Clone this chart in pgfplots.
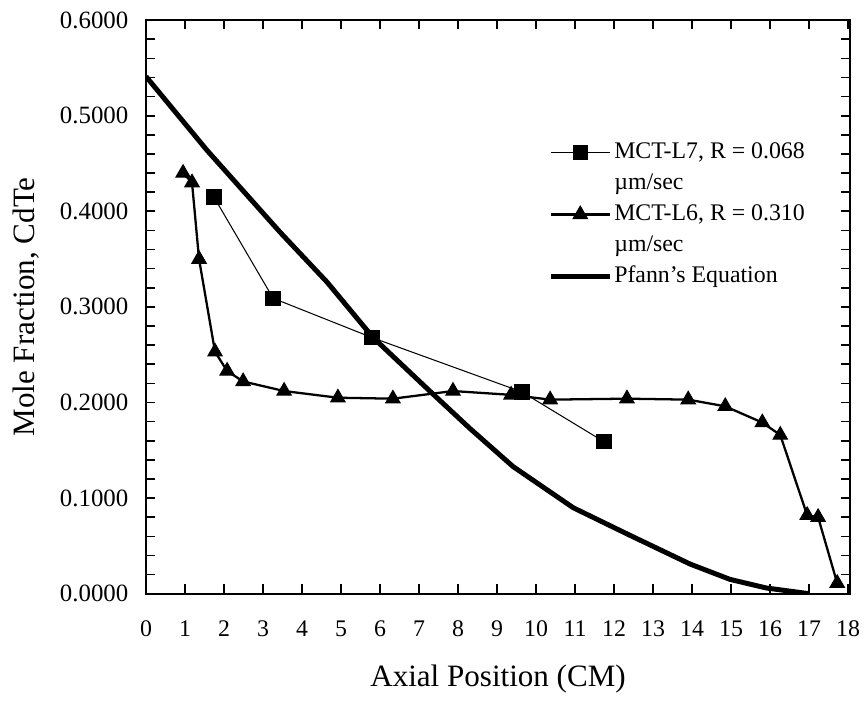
\documentclass[border=0pt]{standalone}
\usepackage{fontspec}
\setmainfont{Liberation Serif}
\usepackage{pgfplots}
\pgfplotsset{compat=1.18}

\begin{document}
\begin{tikzpicture}
\begin{axis}[
    name=ax,
    scale only axis,
    width=340pt,
    height=277pt,
    xmin=0, xmax=18.05,
    ymin=0, ymax=0.6,
    xtick={0,1,...,18},
    ytick={0,0.1,...,0.6},
    minor y tick num=4,
    tick align=inside,
    major tick length=4.5pt,
    minor tick length=4.5pt,
    every tick/.append style={black, line width=0.8pt},
    axis line style={line width=1pt},
    /pgf/number format/assume math mode=true,
    yticklabel={\pgfmathprintnumber[fixed,fixed zerofill,precision=4]{\tick}},
    xticklabel style={font=\fontsize{11.5}{13}\selectfont, anchor=center, yshift=-17pt},
    yticklabel style={font=\fontsize{12}{13}\selectfont, anchor=east, xshift=-5pt},
    xlabel={Axial Position (CM)},
    ylabel={Mole Fraction, CdTe},
    x label style={font=\fontsize{15}{17}\selectfont,
        at={(axis description cs:0.5,0)}, anchor=center, yshift=-41pt},
    y label style={font=\fontsize{15}{17}\selectfont,
        at={(axis description cs:0,0.5)}, anchor=center, yshift=58pt},
    legend style={at={(0.562,0.80)}, anchor=north west, draw=none, fill=none,
        font=\fontsize{11.5}{13}\selectfont, row sep=2.5pt,
        nodes={inner sep=1pt, text height=8pt, text depth=2.5pt}},
    legend cell align=left,
    legend image code/.code={
        \draw[#1, mark repeat=2, mark phase=2]
            plot coordinates {(0cm,0cm) (0.5cm,0cm) (1cm,0cm)};},
]
\addplot[black, line width=0.5pt, mark=square*, mark size=3.5pt,
    mark options={solid, line width=0.5pt}]
    coordinates {(1.74,0.415) (3.26,0.309) (5.79,0.268) (9.64,0.211) (11.74,0.159)};
\addlegendentry{MCT-L7, R = 0.068}
\addlegendimage{empty legend}
\addlegendentry{µm/sec}
\addplot[black, line width=1.1pt, mark=triangle*, mark size=4pt,
    mark options={solid, line width=0.5pt}]
    coordinates {(0.95,0.440) (1.18,0.430) (1.36,0.350) (1.77,0.253) (2.08,0.233)
        (2.49,0.222) (3.54,0.212) (4.92,0.205) (6.33,0.204) (7.87,0.212)
        (9.36,0.208) (10.36,0.203) (12.33,0.204) (13.9,0.203) (14.85,0.196)
        (15.8,0.179) (16.26,0.166) (16.95,0.082) (17.23,0.080) (17.72,0.011)};
\addlegendentry{MCT-L6, R = 0.310}
\addlegendimage{empty legend}
\addlegendentry{µm/sec}
\addplot[black, line width=2.4pt, no marks]
    coordinates {(0,0.541) (1.56,0.464) (3.44,0.378) (4.64,0.326) (5.82,0.268)
        (7.3,0.211) (8.3,0.173) (9.41,0.133) (10.95,0.090) (12.41,0.061)
        (13.95,0.031) (14.97,0.015) (15.9,0.006) (17.0,0.0)};
\addlegendentry{Pfann's Equation}
\end{axis}
\pgfresetboundingbox
\path ([xshift=-70.5pt, yshift=9.7pt]ax.north west)
    rectangle ([xshift=7.2pt, yshift=-52.6pt]ax.south east);
\end{tikzpicture}
\end{document}
